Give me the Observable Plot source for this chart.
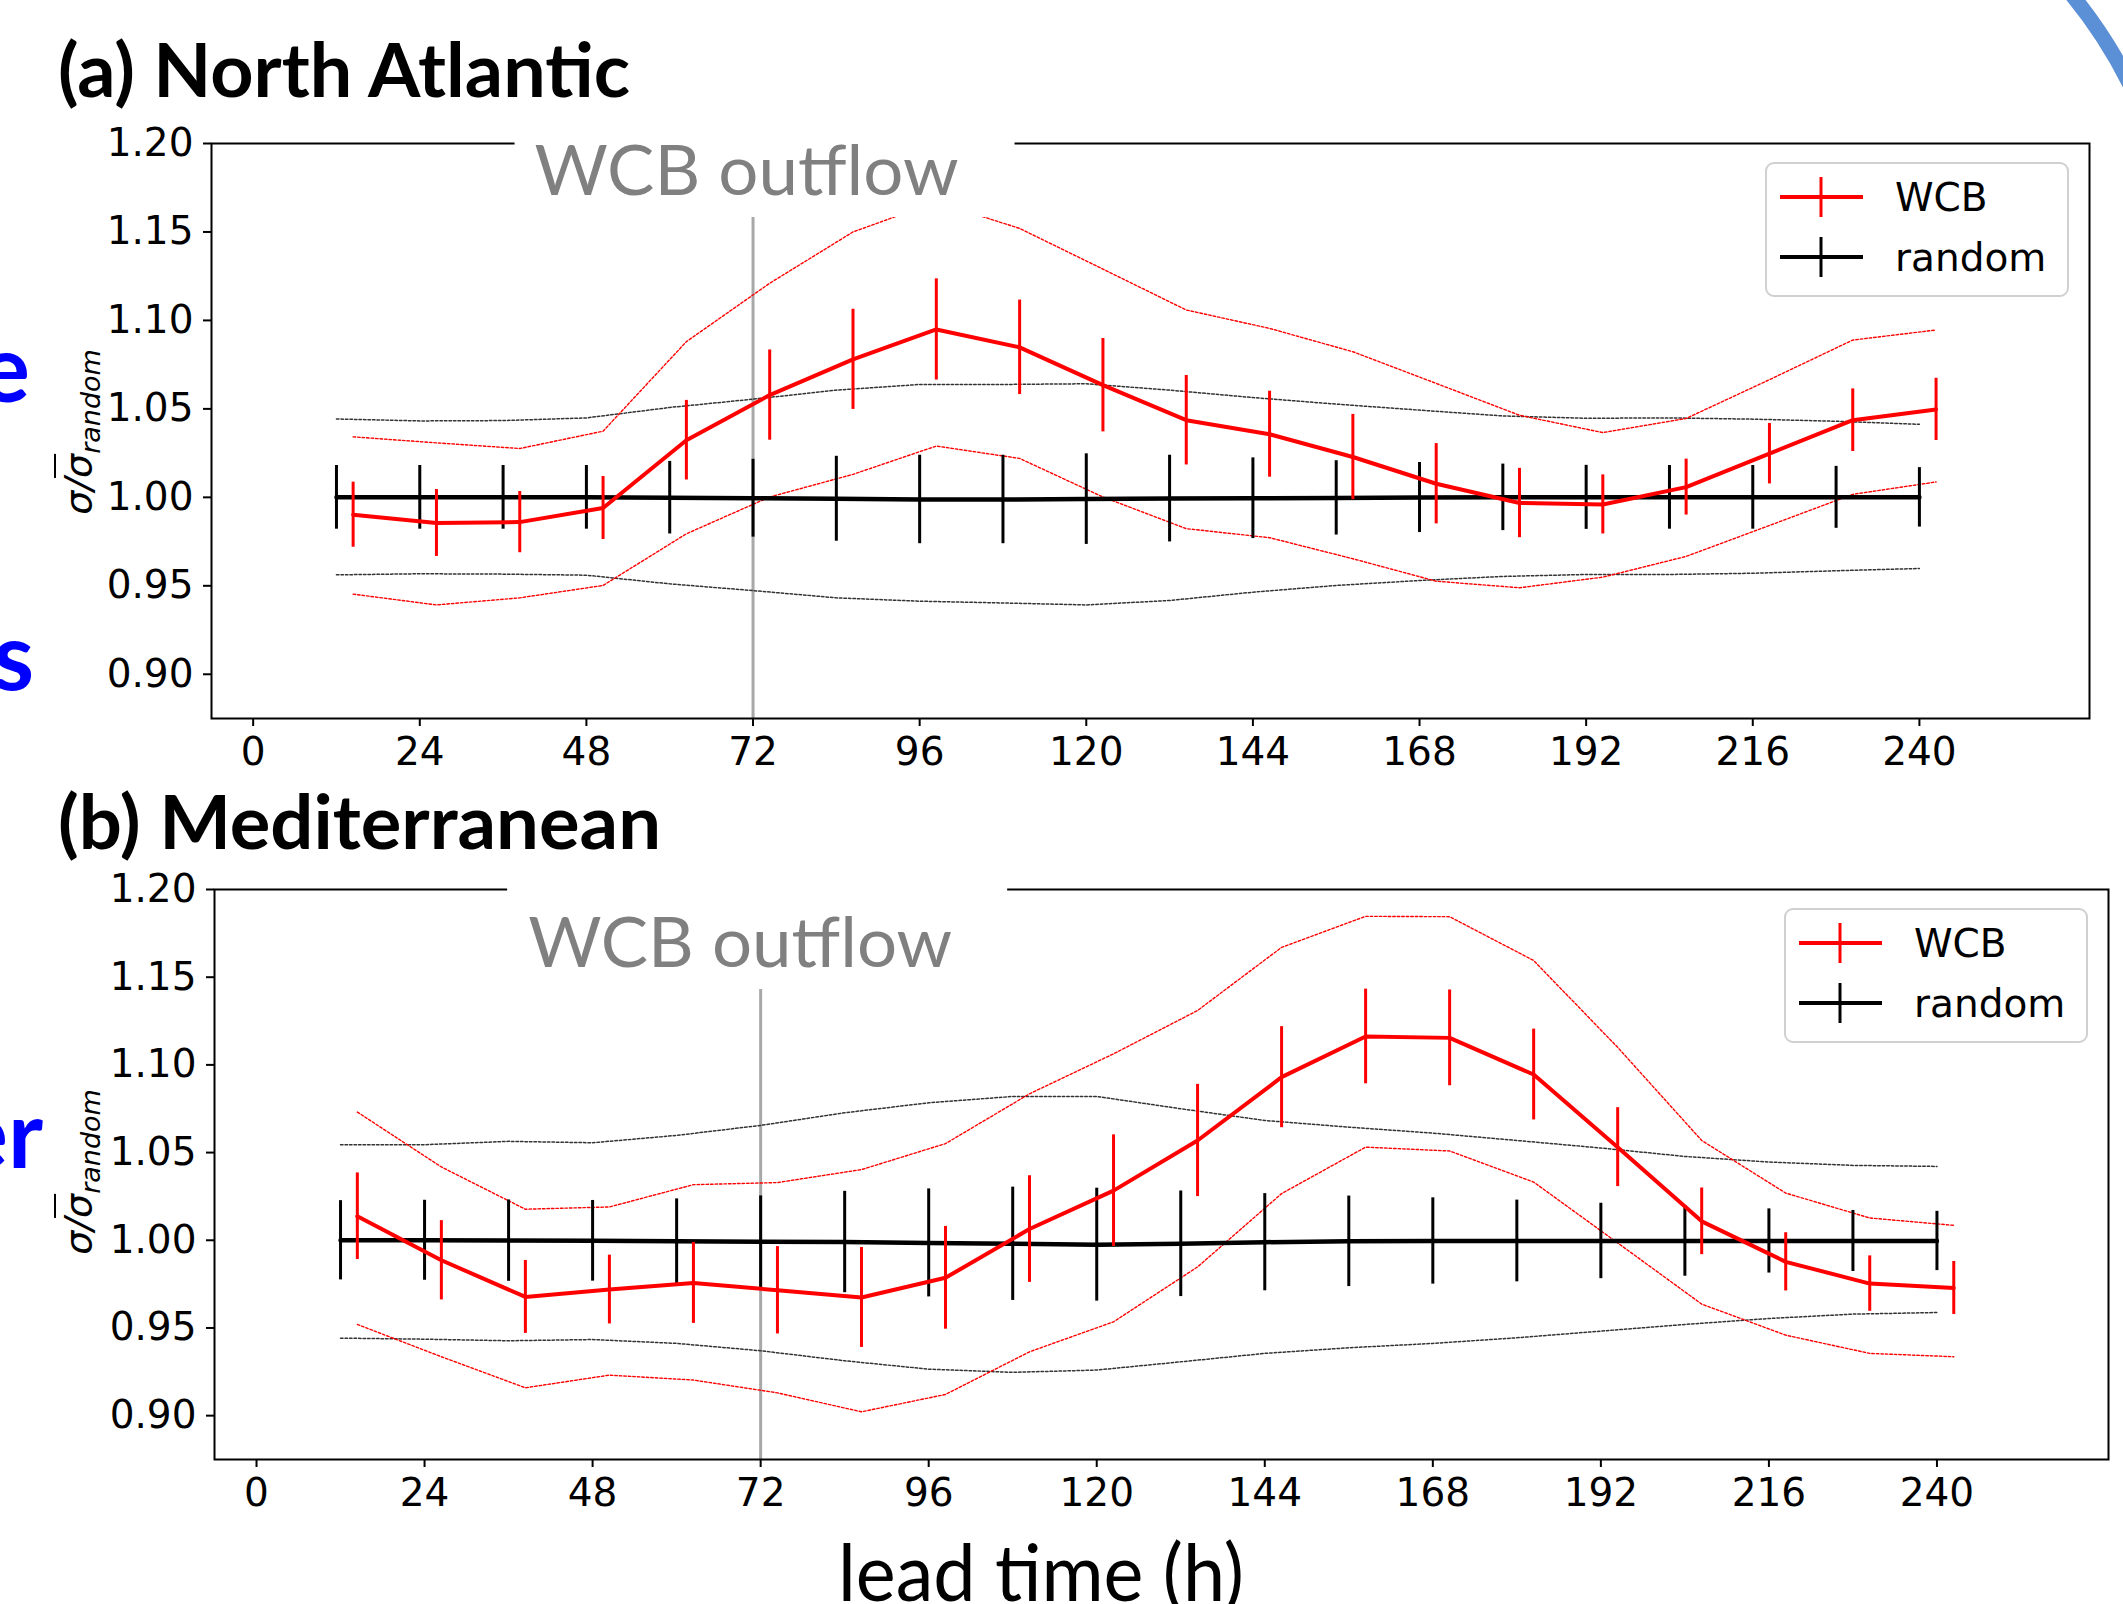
<!DOCTYPE html>
<html>
<head>
<meta charset="utf-8">
<script src="https://cdn.jsdelivr.net/npm/d3@7"></script>
<script src="https://cdn.jsdelivr.net/npm/@observablehq/plot@0.6"></script>
<style>
  html, body { margin:0; padding:0; background:#fff; overflow:hidden; }
  #root { position:relative; width:2123px; height:1604px; overflow:hidden; background:#fff; }
  #root > svg { position:absolute; left:0; margin:0; }
  .ylab { position:absolute; font-family:"DejaVu Sans"; font-style:italic; font-size:38px; color:#000;
          white-space:nowrap; line-height:1; transform: translate(-50%,-50%) rotate(-90deg); }
  .ylab .ov { text-decoration: overline; text-decoration-thickness: 2px; }
  .ylab sub { font-size: 27px; vertical-align: -9px; line-height:0; }
</style>
</head>
<body>
<div id="root"></div>
<script>
// ---------- text ----------
const panelTitles = ["(a) North Atlantic", "(b) Mediterranean"];
const xAxisTitle = "lead time (h)";
const outflowLabel = "WCB outflow";
const outflowLead = 72;
const seriesNames = ["WCB", "random"];
const sideLetters = ["e", "s", "er"];

// ---------- ticks ----------
const xTicks = [0, 24, 48, 72, 96, 120, 144, 168, 192, 216, 240];
const yTicks = [0.90, 0.95, 1.00, 1.05, 1.10, 1.15, 1.20];

// ---------- lead times ----------
const leadRandom = [12, 24, 36, 48, 60, 72, 84, 96, 108, 120, 132, 144, 156, 168, 180, 192, 204, 216, 228, 240];
const leadWcb = [14.4, 26.4, 38.4, 50.4, 62.4, 74.4, 86.4, 98.4, 110.4, 122.4, 134.4, 146.4, 158.4, 170.4, 182.4, 194.4, 206.4, 218.4, 230.4, 242.4];

// ---------- (a) North Atlantic ----------
const naRandomMean  = [1.000, 1.000, 1.000, 1.000, 0.9998, 0.9995, 0.9992, 0.9988, 0.9988, 0.9990, 0.9993, 0.9995, 0.9997, 0.9999, 1.000, 1.000, 1.000, 1.000, 1.000, 1.000];
const naRandomErr   = [0.018, 0.018, 0.018, 0.018, 0.0205, 0.022, 0.024, 0.025, 0.025, 0.0256, 0.0245, 0.0228, 0.021, 0.0198, 0.0188, 0.0181, 0.018, 0.018, 0.0175, 0.0168];
const naRandomUpper = [1.0443, 1.0432, 1.0434, 1.0449, 1.0508, 1.0555, 1.0606, 1.0638, 1.0638, 1.0642, 1.0606, 1.0564, 1.0527, 1.0493, 1.046, 1.0447, 1.0449, 1.0442, 1.043, 1.0413];
const naRandomLower = [0.9562, 0.9568, 0.9566, 0.956, 0.9511, 0.9473, 0.9432, 0.9413, 0.9403, 0.9392, 0.9417, 0.9464, 0.9502, 0.953, 0.9553, 0.9564, 0.9564, 0.9571, 0.9585, 0.9598];
const naWcbMean  = [0.9902, 0.9855, 0.986, 0.994, 1.0323, 1.0578, 1.078, 1.0949, 1.0848, 1.0634, 1.0436, 1.0357, 1.0228, 1.0077, 0.9968, 0.996, 1.0058, 1.0247, 1.0436, 1.0497];
const naWcbErr   = [0.0184, 0.0189, 0.0173, 0.0178, 0.0225, 0.0255, 0.0283, 0.0286, 0.0267, 0.0264, 0.0253, 0.0243, 0.0241, 0.0227, 0.0196, 0.0167, 0.0158, 0.0171, 0.0177, 0.0176];
const naWcbUpper = [1.0342, 1.0308, 1.0276, 1.0374, 1.088, 1.121, 1.150, 1.167, 1.152, 1.129, 1.1059, 1.0955, 1.0823, 1.0644, 1.0464, 1.0366, 1.0446, 1.0665, 1.0889, 1.0946];
const naWcbLower = [0.9453, 0.9392, 0.9432, 0.9502, 0.9794, 1.0002, 1.013, 1.029, 1.022, 1.0002, 0.9823, 0.9772, 0.9653, 0.9526, 0.9489, 0.9549, 0.9666, 0.9841, 1.0017, 1.0087];

// ---------- (b) Mediterranean ----------
const medRandomMean  = [1.000, 1.000, 0.9998, 0.9997, 0.9995, 0.9992, 0.999, 0.9985, 0.998, 0.9975, 0.998, 0.9989, 0.9994, 0.9996, 0.9996, 0.9996, 0.9996, 0.9996, 0.9996, 0.9996];
const medRandomErr   = [0.0226, 0.0228, 0.0232, 0.023, 0.0241, 0.0261, 0.0289, 0.0308, 0.0323, 0.0322, 0.0301, 0.0277, 0.0258, 0.0246, 0.0233, 0.0215, 0.0201, 0.0183, 0.0174, 0.0169];
const medRandomUpper = [1.0545, 1.0545, 1.0564, 1.0556, 1.0598, 1.0655, 1.0727, 1.0784, 1.082, 1.082, 1.075, 1.0683, 1.0645, 1.0611, 1.0569, 1.0526, 1.0478, 1.0446, 1.0427, 1.0421];
const medRandomLower = [0.9442, 0.9436, 0.9427, 0.9434, 0.9412, 0.937, 0.9313, 0.9265, 0.9247, 0.926, 0.9307, 0.9355, 0.9387, 0.9412, 0.9444, 0.9482, 0.952, 0.9554, 0.9579, 0.9588];
const medWcbMean  = [1.0137, 0.9886, 0.9677, 0.9719, 0.9757, 0.9715, 0.9674, 0.9786, 1.0064, 1.0283, 1.0569, 1.093, 1.1162, 1.1154, 1.0945, 1.0531, 1.0108, 0.9877, 0.9753, 0.9728];
const medWcbErr   = [0.0247, 0.0226, 0.0208, 0.0196, 0.0231, 0.0249, 0.0285, 0.0293, 0.0304, 0.0318, 0.032, 0.0288, 0.027, 0.0273, 0.0259, 0.0225, 0.019, 0.0166, 0.0158, 0.0151];
const medWcbUpper = [1.0731, 1.0418, 1.0177, 1.019, 1.0317, 1.0329, 1.0403, 1.0551, 1.0835, 1.1063, 1.131, 1.167, 1.1847, 1.1845, 1.1595, 1.110, 1.0569, 1.0269, 1.0127, 1.0085];
const medWcbLower = [0.952, 0.9336, 0.9159, 0.9231, 0.9203, 0.913, 0.9022, 0.9121, 0.9364, 0.9535, 0.9848, 1.0266, 1.0531, 1.0509, 1.0332, 0.9985, 0.9636, 0.9459, 0.9355, 0.9336];

// ---------- build ----------
const SVGNS = "http://www.w3.org/2000/svg";
const RED = "#ff0000", BLACK = "#000000";

function el(name, attrs, text) {
  const e = document.createElementNS(SVGNS, name);
  for (const k in attrs) e.setAttribute(k, attrs[k]);
  if (text != null) e.textContent = text;
  return e;
}

function rowsOf(xs, mean, err, upper, lower) {
  return xs.map((x, i) => ({x, mean: mean[i], lo: mean[i] - err[i], hi: mean[i] + err[i], upper: upper[i], lower: lower[i]}));
}

const panels = [
  {
    title: panelTitles[0],
    wcb: rowsOf(leadWcb, naWcbMean, naWcbErr, naWcbUpper, naWcbLower),
    rnd: rowsOf(leadRandom, naRandomMean, naRandomErr, naRandomUpper, naRandomLower),
    layout: {top: 0, height: 790, marginTop: 143, marginBottom: 72, marginLeft: 211, marginRight: 34,
             box: {left: -238, right: 262, top: -28, bottom: 74}, text: {dx: -6, baseline: 52},
             titleBaseline: 97, titleLength: 572, ylabCenter: 432}
  },
  {
    title: panelTitles[1],
    wcb: rowsOf(leadWcb, medWcbMean, medWcbErr, medWcbUpper, medWcbLower),
    rnd: rowsOf(leadRandom, medRandomMean, medRandomErr, medRandomUpper, medRandomLower),
    layout: {top: 800, height: 731, marginTop: 89, marginBottom: 72, marginLeft: 214, marginRight: 15,
             box: {left: -253, right: 247, top: -10, bottom: 100}, text: {dx: -20, baseline: 78},
             titleBaseline: 849, titleLength: 603, ylabCenter: 1172}
  }
];

function outflowMark(L) {
  return (index, scales, values, dims) => {
    const g = el("g", {});
    const cx = scales.x(outflowLead);
    const top = dims.marginTop;
    g.appendChild(el("rect", {x: cx + L.box.left, y: top + L.box.top, width: L.box.right - L.box.left,
      height: L.box.bottom - L.box.top, fill: "#ffffff"}));
    g.appendChild(el("text", {x: cx + L.text.dx, y: top + L.text.baseline, "text-anchor": "middle",
      "font-family": "Lato", "font-size": 70, fill: "#808080", textLength: 424, lengthAdjust: "spacingAndGlyphs"}, outflowLabel));
    return g;
  };
}

function legendMark() {
  const colors = [RED, BLACK];
  return (index, scales, values, dims) => {
    const g = el("g", {});
    const right = dims.width - dims.marginRight - 21;
    const w = 302, h = 133;
    const left = right - w;
    const top = dims.marginTop + 20;
    g.appendChild(el("rect", {x: left, y: top, width: w, height: h, rx: 8, fill: "#ffffff", "fill-opacity": 0.8,
      stroke: "#d0d0d0", "stroke-width": 2}));
    seriesNames.forEach((name, i) => {
      const cy = top + 34 + i * 60;
      g.appendChild(el("line", {x1: left + 14, x2: left + 97, y1: cy, y2: cy, stroke: colors[i], "stroke-width": 4}));
      g.appendChild(el("line", {x1: left + 55, x2: left + 55, y1: cy - 20, y2: cy + 20, stroke: colors[i], "stroke-width": 3}));
      g.appendChild(el("text", {x: left + 129, y: cy + 14, "text-anchor": "start", "font-family": "DejaVu Sans",
        "font-size": 39, fill: "#000"}, name));
    });
    return g;
  };
}

const root = document.getElementById("root");

panels.forEach(p => {
  const L = p.layout;
  const chart = Plot.plot({
    width: 2123,
    height: L.height,
    marginTop: L.marginTop,
    marginBottom: L.marginBottom,
    marginLeft: L.marginLeft,
    marginRight: L.marginRight,
    style: {fontFamily: "DejaVu Sans", fontSize: "39px", background: "transparent", color: "black", overflow: "visible"},
    x: {domain: [-6, 264.5], label: null},
    y: {domain: [0.875, 1.20], label: null},
    marks: [
      Plot.ruleX([outflowLead], {stroke: "#a8a8a8", strokeWidth: 3}),
      Plot.line(p.rnd, {x: "x", y: "upper", stroke: "#333", strokeWidth: 1.5, strokeDasharray: "2.5,2"}),
      Plot.line(p.rnd, {x: "x", y: "lower", stroke: "#333", strokeWidth: 1.5, strokeDasharray: "2.5,2"}),
      Plot.line(p.wcb, {x: "x", y: "upper", stroke: RED, strokeWidth: 1.4, strokeDasharray: "2.5,2"}),
      Plot.line(p.wcb, {x: "x", y: "lower", stroke: RED, strokeWidth: 1.4, strokeDasharray: "2.5,2"}),
      Plot.ruleX(p.rnd, {x: "x", y1: "lo", y2: "hi", stroke: BLACK, strokeWidth: 3}),
      Plot.line(p.rnd, {x: "x", y: "mean", stroke: BLACK, strokeWidth: 4.5}),
      Plot.ruleX(p.wcb, {x: "x", y1: "lo", y2: "hi", stroke: RED, strokeWidth: 3}),
      Plot.line(p.wcb, {x: "x", y: "mean", stroke: RED, strokeWidth: 4}),
      Plot.frame({stroke: BLACK, strokeWidth: 2}),
      Plot.axisX(xTicks, {tickSize: 8, tickPadding: 11, strokeWidth: 2, label: null}),
      Plot.axisY(yTicks, {tickSize: 8, tickPadding: 10, strokeWidth: 2, tickFormat: d3.format(".2f"), label: null}),
      outflowMark(L),
      legendMark()
    ]
  });
  chart.style.top = L.top + "px";
  root.appendChild(chart);

  const lab = document.createElement("div");
  lab.className = "ylab";
  lab.style.left = "78px";
  lab.style.top = L.ylabCenter + "px";
  lab.innerHTML = 'σ/<span class="ov">σ</span><sub>random</sub>';
  root.appendChild(lab);
});

// overlay: titles, axis title, slide remnants
const over = el("svg", {width: 2123, height: 1604, viewBox: "0 0 2123 1604"});
over.style.position = "absolute";
over.style.top = "0px";
over.style.left = "0px";
over.style.pointerEvents = "none";

panels.forEach(p => {
  over.appendChild(el("text", {x: 58, y: p.layout.titleBaseline, "font-family": "Lato", "font-weight": 700,
    "font-size": 74, fill: "#000", textLength: p.layout.titleLength, lengthAdjust: "spacingAndGlyphs"}, p.title));
});
over.appendChild(el("text", {x: 838, y: 1601, "font-family": "Lato", "font-size": 80, fill: "#000",
  textLength: 406, lengthAdjust: "spacingAndGlyphs"}, xAxisTitle));

// partial blue letters from the surrounding slide
const sidePos = [{x: 30, y: 402}, {x: 34, y: 690}, {x: 43, y: 1168}];
sideLetters.forEach((t, i) => {
  over.appendChild(el("text", {x: sidePos[i].x, y: sidePos[i].y, "text-anchor": "end", "font-family": "Lato",
    "font-weight": 700, "font-size": 94, fill: "#0000ff"}, t));
});
over.appendChild(el("path", {d: "M 2050 -30 A 481 481 0 0 1 2140 106", fill: "none", stroke: "#5b8fd6", "stroke-width": 15}));
root.appendChild(over);
</script>
</body>
</html>
